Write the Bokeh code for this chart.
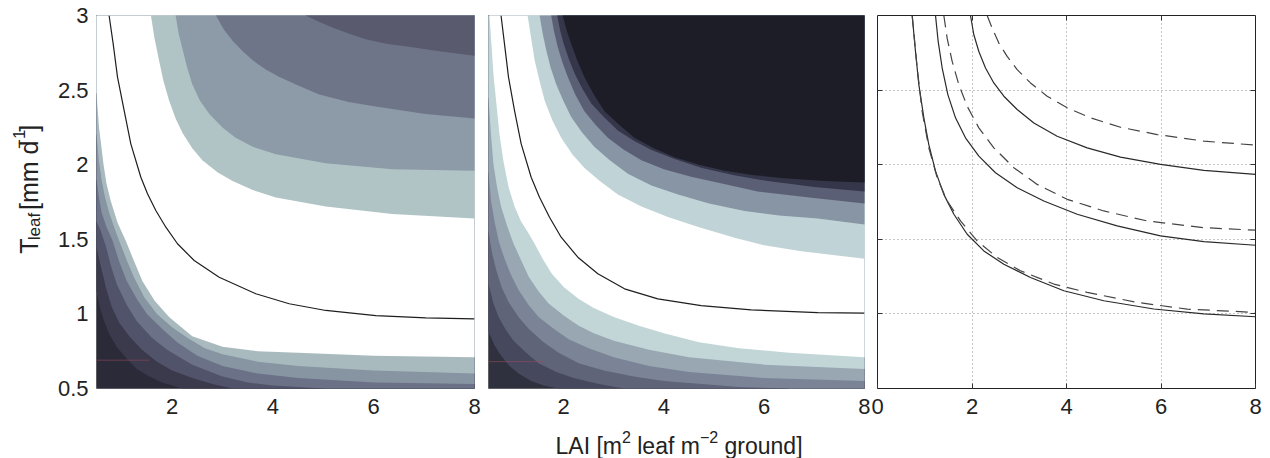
import math
from bokeh.plotting import figure
from bokeh.models import Range1d, FixedTicker, LinearAxis, CustomJSTickFormatter
from bokeh.layouts import row, column
from bokeh.core.properties import value
from bokeh.embed import file_html
from bokeh.resources import INLINE

FONT = "Liberation Sans"

# ---------------- data ----------------
lai_range = (0.5, 8.0)
lai_range_c = (0.0, 8.0)
t_range = (0.5, 3.0)

x_ticks_ab = [2, 4, 6, 8]
x_ticks_c = [0, 2, 4, 6, 8]
y_ticks = [0.5, 1, 1.5, 2, 2.5, 3]
grid_x_c = [2, 4, 6]
grid_y_c = [1, 1.5, 2, 2.5]

# Panel a: black contour line
a_line_lai = [0.75, 0.831, 0.917, 1.049, 1.181, 1.380, 1.512, 1.677, 1.876, 2.107, 2.438, 2.934,
              3.661, 4.323, 5.050, 6.042, 7.034, 8.0]
a_line_t = [3.0, 2.810, 2.587, 2.363, 2.140, 1.916, 1.805, 1.693, 1.581, 1.470, 1.358, 1.246,
            1.135, 1.068, 1.023, 0.989, 0.974, 0.967]

# Panel a: band boundaries, bottom-left corner outward
a_L6_lai = [0.5, 0.57, 0.65, 0.76, 0.9, 1.1, 1.3, 1.55, 1.8, 2.2]
a_L6_t = [1.15, 1.04, 0.95, 0.86, 0.78, 0.70, 0.63, 0.58, 0.54, 0.5]
a_L5_lai = [0.5, 0.55, 0.6, 0.7, 0.8, 0.95, 1.15, 1.4, 1.7, 2.0, 2.4, 2.8, 3.2]
a_L5_t = [1.45, 1.37, 1.30, 1.16, 1.05, 0.94, 0.85, 0.76, 0.68, 0.62, 0.57, 0.53, 0.5]
a_L4_lai = [0.5, 0.58, 0.68, 0.78, 0.9, 1.1, 1.3, 1.6, 1.9, 2.4, 3.0, 3.5, 4.0, 5.0]
a_L4_t = [1.62, 1.56, 1.46, 1.33, 1.20, 1.06, 0.95, 0.84, 0.76, 0.66, 0.58, 0.54, 0.52, 0.5]
a_L3_lai = [0.5, 0.55, 0.6, 0.7, 0.82, 0.95, 1.1, 1.3, 1.5, 1.8, 2.1, 2.5, 3.0, 3.7, 4.5, 6.0, 8.0]
a_L3_t = [1.9, 1.78, 1.68, 1.58, 1.49, 1.35, 1.22, 1.10, 1.0, 0.90, 0.81, 0.72, 0.65, 0.60, 0.57,
          0.54, 0.53]
a_L2_lai = [0.5, 0.55, 0.6, 0.67, 0.75, 0.85, 0.95, 1.1, 1.25, 1.45, 1.7, 2.0, 2.3, 2.65, 3.0,
            3.7, 4.5, 6.0, 8.0]
a_L2_t = [2.2, 2.02, 1.9, 1.78, 1.68, 1.58, 1.49, 1.36, 1.24, 1.11, 1.0, 0.91, 0.84, 0.77, 0.73,
          0.68, 0.65, 0.62, 0.60]
a_L1_lai = [0.5, 0.55, 0.64, 0.7, 0.78, 0.92, 1.08, 1.25, 1.41, 1.65, 1.94, 2.4, 3.0, 3.7, 4.5,
            6.0, 8.0]
a_L1_t = [2.48, 2.25, 2.0, 1.87, 1.76, 1.61, 1.49, 1.35, 1.22, 1.09, 0.98, 0.85, 0.78, 0.75, 0.74,
          0.72, 0.71]
a_U1_lai = [1.58, 1.65, 1.74, 1.83, 1.94, 2.07, 2.21, 2.4, 2.60, 2.9, 3.20, 3.6, 4.06, 5.05, 6.37, 8.0]
a_U1_t = [3.0, 2.85, 2.70, 2.56, 2.43, 2.31, 2.21, 2.11, 2.03, 1.95, 1.89, 1.83, 1.78, 1.72, 1.67, 1.64]
a_U2_lai = [2.07, 2.13, 2.21, 2.30, 2.40, 2.55, 2.74, 3.0, 3.26, 3.6, 4.06, 5.05, 6.37, 8.0]
a_U2_t = [3.0, 2.88, 2.77, 2.65, 2.54, 2.43, 2.34, 2.25, 2.18, 2.12, 2.07, 2.01, 1.97, 1.96]
a_U3_lai = [2.87, 3.02, 3.20, 3.40, 3.60, 3.85, 4.12, 4.5, 4.92, 5.5, 6.04, 7.03, 8.0]
a_U3_t = [3.0, 2.91, 2.83, 2.76, 2.70, 2.64, 2.59, 2.53, 2.47, 2.42, 2.39, 2.34, 2.31]
a_U4_lai = [4.65, 4.9, 5.18, 5.5, 5.84, 6.25, 6.70, 7.3, 8.0]
a_U4_t = [3.0, 2.96, 2.92, 2.88, 2.84, 2.81, 2.79, 2.76, 2.73]
a_base_color = "#2a2a38"
a_colors = ["#3a3a4c", "#51536a", "#6b7187", "#8794a2", "#a9babf", "#ffffff",
            "#b0c4c5", "#8d9aa7", "#6f7589", "#5a5a6e"]

# Panel b: black contour line
b_line_lai = [0.75, 0.819, 0.899, 1.019, 1.152, 1.351, 1.517, 1.717, 1.949, 2.282, 2.681, 3.213,
              3.878, 4.742, 5.739, 7.069, 8.0]
b_line_t = [3.0, 2.810, 2.587, 2.363, 2.140, 1.916, 1.782, 1.648, 1.514, 1.380, 1.269, 1.168,
            1.101, 1.056, 1.027, 1.009, 1.005]

# Panel b: band boundaries, bottom-left corner outward
b_L6_lai = [0.5, 0.62, 0.75, 0.92, 1.1, 1.35, 1.6, 1.9]
b_L6_t = [0.88, 0.79, 0.72, 0.65, 0.60, 0.55, 0.52, 0.5]
b_L5_lai = [0.5, 0.6, 0.7, 0.85, 1.0, 1.25, 1.5, 1.85, 2.2, 2.7, 3.2]
b_L5_t = [1.2, 1.07, 0.98, 0.89, 0.82, 0.74, 0.67, 0.61, 0.57, 0.53, 0.5]
b_L4_lai = [0.5, 0.57, 0.65, 0.76, 0.9, 1.1, 1.3, 1.6, 1.9, 2.3, 2.8, 3.4, 4.0, 5.5, 6.5]
b_L4_t = [1.55, 1.41, 1.30, 1.18, 1.08, 0.98, 0.90, 0.81, 0.74, 0.67, 0.62, 0.58, 0.55, 0.51, 0.5]
b_L3_lai = [0.5, 0.55, 0.62, 0.71, 0.82, 0.95, 1.1, 1.3, 1.5, 1.8, 2.1, 2.5, 3.0, 3.7, 4.5, 6.0, 8.0]
b_L3_t = [1.95, 1.76, 1.62, 1.48, 1.37, 1.26, 1.16, 1.06, 0.98, 0.90, 0.83, 0.77, 0.71, 0.65, 0.61,
          0.57, 0.55]
b_L2_lai = [0.5, 0.55, 0.6, 0.67, 0.75, 0.87, 1.0, 1.15, 1.3, 1.5, 1.7, 2.0, 2.3, 2.6, 3.0, 3.7,
            4.5, 6.0, 8.0]
b_L2_t = [2.45, 2.2, 2.0, 1.85, 1.72, 1.59, 1.47, 1.36, 1.25, 1.15, 1.07, 0.99, 0.92, 0.87, 0.82,
          0.76, 0.71, 0.66, 0.63]
b_L1_lai = [0.52, 0.56, 0.6, 0.66, 0.72, 0.8, 0.9, 1.02, 1.15, 1.28, 1.42, 1.58, 1.76, 2.0, 2.3,
            2.6, 3.0, 3.5, 4.0, 4.7, 5.5, 6.5, 8.0]
b_L1_t = [3.0, 2.8, 2.6, 2.4, 2.2, 2.02, 1.85, 1.72, 1.62, 1.55, 1.47, 1.37, 1.27, 1.18, 1.10,
          1.04, 0.98, 0.92, 0.87, 0.81, 0.77, 0.74, 0.71]
b_U1_lai = [1.28, 1.35, 1.42, 1.52, 1.62, 1.77, 1.95, 2.17, 2.41, 2.72, 3.08, 3.55, 4.08, 4.7,
            5.41, 6.0, 6.74, 8.0]
b_U1_t = [3.0, 2.85, 2.70, 2.56, 2.43, 2.30, 2.18, 2.07, 1.98, 1.89, 1.80, 1.72, 1.65, 1.58,
          1.51, 1.46, 1.42, 1.37]
b_U2_lai = [1.52, 1.58, 1.65, 1.74, 1.85, 1.99, 2.15, 2.36, 2.61, 2.92, 3.28, 3.75, 4.28, 4.9,
            5.61, 6.3, 7.07, 8.0]
b_U2_t = [3.0, 2.88, 2.77, 2.65, 2.54, 2.43, 2.32, 2.22, 2.12, 2.03, 1.94, 1.86, 1.80, 1.74,
          1.69, 1.66, 1.64, 1.60]
b_U3_lai = [1.75, 1.81, 1.88, 1.97, 2.08, 2.23, 2.41, 2.63, 2.88, 3.2, 3.55, 4.0, 4.54, 5.2,
            5.87, 6.9, 8.0]
b_U3_t = [3.0, 2.89, 2.79, 2.69, 2.59, 2.47, 2.36, 2.27, 2.18, 2.10, 2.03, 1.97, 1.92, 1.87,
          1.82, 1.78, 1.74]
b_U4_lai = [1.87, 1.93, 2.0, 2.1, 2.22, 2.37, 2.55, 2.8, 3.08, 3.4, 3.74, 4.2, 4.74, 5.4, 6.07,
            7.0, 8.0]
b_U4_t = [3.0, 2.90, 2.81, 2.71, 2.61, 2.51, 2.41, 2.32, 2.23, 2.16, 2.10, 2.04, 1.98, 1.93,
          1.89, 1.85, 1.82]
b_U5_lai = [1.98, 2.06, 2.15, 2.27, 2.41, 2.6, 2.81, 3.1, 3.41, 3.8, 4.21, 4.7, 5.21, 5.8, 6.40,
            7.2, 8.0]
b_U5_t = [3.0, 2.90, 2.81, 2.70, 2.59, 2.47, 2.36, 2.27, 2.18, 2.11, 2.05, 2.0, 1.96, 1.93,
          1.91, 1.89, 1.88]
b_base_color = "#30313f"
b_colors = ["#46485d", "#5f6479", "#7b8496", "#98a7b1", "#c2d6d8", "#ffffff",
            "#c0d3d6", "#8795a4", "#5b5f76", "#35364a", "#1d1d27"]

# scan artefact line (faint red)
a_red_lai = [0.5, 1.55]
a_red_t = [0.69, 0.69]
b_red_lai = [0.5, 1.6]
b_red_t = [0.68, 0.68]

# Panel c: solid and dashed contour lines
c_S1_lai = [0.734, 0.804, 0.875, 0.981, 1.086, 1.228, 1.404, 1.616, 1.898, 2.250, 2.674, 3.238,
            3.944, 4.790, 5.848, 6.907, 8.0]
c_S1_t = [3.0, 2.759, 2.537, 2.314, 2.135, 1.957, 1.801, 1.668, 1.534, 1.422, 1.333, 1.244,
          1.155, 1.088, 1.033, 1.000, 0.981]
c_D1_lai = [0.734, 0.840, 0.945, 1.086, 1.263, 1.474, 1.757, 2.109, 2.533, 3.026, 3.732, 4.437,
            5.496, 6.554, 8.0]
c_D1_t = [3.0, 2.648, 2.358, 2.113, 1.913, 1.757, 1.623, 1.489, 1.378, 1.289, 1.200, 1.144,
          1.077, 1.032, 1.010]
c_S2_lai = [1.228, 1.284, 1.369, 1.489, 1.651, 1.862, 2.145, 2.497, 2.956, 3.520, 4.226, 5.072,
            5.989, 6.907, 8.0]
c_S2_t = [3.0, 2.826, 2.648, 2.470, 2.314, 2.180, 2.057, 1.946, 1.846, 1.757, 1.668, 1.590,
          1.523, 1.485, 1.460]
c_D2_lai = [1.404, 1.474, 1.580, 1.721, 1.898, 2.145, 2.462, 2.885, 3.379, 4.014, 4.790, 5.707,
            6.907, 8.0]
c_D2_t = [3.0, 2.848, 2.693, 2.537, 2.392, 2.247, 2.113, 1.980, 1.868, 1.768, 1.690, 1.623,
          1.578, 1.561]
c_S3_lai = [1.968, 2.039, 2.145, 2.286, 2.462, 2.674, 2.956, 3.309, 3.802, 4.437, 5.143, 5.989,
            6.907, 8.0]
c_S3_t = [3.0, 2.871, 2.759, 2.648, 2.548, 2.459, 2.370, 2.280, 2.191, 2.113, 2.051, 2.002,
          1.962, 1.935]
c_D3_lai = [2.321, 2.427, 2.568, 2.744, 2.956, 3.238, 3.591, 4.014, 4.508, 5.143, 5.919, 6.907, 8.0]
c_D3_t = [3.0, 2.915, 2.815, 2.726, 2.637, 2.548, 2.459, 2.381, 2.314, 2.251, 2.202, 2.158, 2.131]

# axis label texts
ylabel_pieces = ["T", "leaf", "[mm d", "\u22121", "]"]
xlabel_pieces = ["LAI [m", "2", "leaf m", "\u22122", "ground]"]

# ---------------- layout constants ----------------
PAGE_W, PAGE_H = 1270, 458
TOP = 15
FRAME_H = 373
BOTTOM = 36
ROW_H = TOP + FRAME_H + BOTTOM
YLAB_W = 50

TEXT_COLOR = "#222222"
TICK_FS = "22px"
LABEL_PX = 23
SUP_PX = 16
YLABEL_PX = 25
YSUB_PX = 17

ADV = {'L': 556, 'A': 667, 'I': 278, ' ': 278, '[': 278, ']': 278, 'm': 833, 'l': 222,
       'e': 556, 'a': 556, 'f': 278, 'g': 556, 'r': 333, 'o': 556, 'u': 556, 'n': 556,
       'd': 556, 'T': 611, '2': 556, '1': 556, '\u2212': 584}


def text_w(s, px):
    return sum(ADV.get(ch, 556) for ch in s) / 1000.0 * px


def region_above(cx, cy, xr, yr):
    big = 100.0
    xs, ys = [], []
    if cx[0] <= xr[0] + 1e-9:
        xs += [xr[0] - 1, xr[0] - 1]
        ys += [big, cy[0]]
    else:
        xs += [cx[0]]
        ys += [big]
    xs += list(cx)
    ys += list(cy)
    if cy[-1] <= yr[0] + 1e-9:
        xs += [cx[-1], big]
        ys += [yr[0] - 1, yr[0] - 1]
    else:
        xs += [big]
        ys += [cy[-1]]
    xs += [big]
    ys += [big]
    return xs, ys


def base_fig(width, left, right, xr):
    p = figure(width=width, height=ROW_H, x_range=Range1d(*xr), y_range=Range1d(*t_range),
               output_backend="svg", toolbar_location=None,
               min_border_left=left, min_border_right=right,
               min_border_top=TOP, min_border_bottom=BOTTOM)
    p.background_fill_color = "white"
    p.border_fill_color = "white"
    for ax in p.axis:
        ax.axis_line_color = None
        ax.minor_tick_line_color = None
        ax.major_tick_in = 0
        ax.major_tick_out = 0
        ax.major_label_text_font = FONT
        ax.major_label_text_font_size = TICK_FS
        ax.major_label_text_color = TEXT_COLOR
    p.xaxis.major_label_standoff = 10
    p.yaxis.major_label_standoff = 8
    p.yaxis.ticker = FixedTicker(ticks=y_ticks)
    p.yaxis.formatter = CustomJSTickFormatter(code="return String(tick)")
    return p


def contour_panel(p, curves, colors, base_color, line_x, line_y, red_x, red_y):
    p.xgrid.visible = False
    p.ygrid.visible = False
    p.quad(left=lai_range[0] - 1, right=lai_range[1] + 1, bottom=t_range[0] - 1,
           top=t_range[1] + 1, fill_color=base_color, line_color=None)
    for (cx, cy), col in zip(curves, colors):
        xs, ys = region_above(cx, cy, lai_range, t_range)
        p.patch(xs, ys, fill_color=col, line_color=None)
    p.line(red_x, red_y, line_color="#a04a5c", line_alpha=0.55, line_width=1)
    p.line(line_x, line_y, line_color="#1e1e1e", line_width=1.2)
    p.outline_line_color = "#8c8c8c"
    p.outline_line_width = 1
    p.xaxis.ticker = FixedTicker(ticks=x_ticks_ab)


def blank_fig(width, height):
    p = figure(width=width, height=height, x_range=Range1d(0, width), y_range=Range1d(0, height),
               output_backend="svg", toolbar_location=None,
               min_border_left=0, min_border_right=0, min_border_top=0, min_border_bottom=0)
    p.axis.visible = False
    p.xgrid.visible = False
    p.ygrid.visible = False
    p.outline_line_color = None
    p.background_fill_color = "white"
    p.border_fill_color = "white"
    return p


# ---------------- y label figure ----------------
py_lab = blank_fig(YLAB_W, ROW_H)
y_sizes = [YLABEL_PX, YSUB_PX, YLABEL_PX, YSUB_PX, YLABEL_PX]
y_offsets = [0, 6, 0, -10, 0]
y_gaps = [0, 0, text_w(" ", YLABEL_PX), 0, 0]
total = sum(text_w(s, fs) for s, fs in zip(ylabel_pieces, y_sizes)) + sum(y_gaps)
cursor = 198 + total / 2.0
base_x = 28
for s, fs, off, gap in zip(ylabel_pieces, y_sizes, y_offsets, y_gaps):
    cursor -= gap
    py_lab.text(x=[base_x + off], y=[ROW_H - cursor], text=[s], angle=math.pi / 2,
                text_font=value(FONT), text_font_size=value(f"{fs}px"), text_color=TEXT_COLOR,
                text_align="left", text_baseline="alphabetic")
    cursor -= text_w(s, fs)

# ---------------- panel a ----------------
W1 = (96 - YLAB_W) + 378 + 7
pa = base_fig(W1, 96 - YLAB_W, 7, lai_range)
contour_panel(pa,
              [(a_L6_lai, a_L6_t), (a_L5_lai, a_L5_t), (a_L4_lai, a_L4_t), (a_L3_lai, a_L3_t),
               (a_L2_lai, a_L2_t), (a_L1_lai, a_L1_t), (a_U1_lai, a_U1_t), (a_U2_lai, a_U2_t),
               (a_U3_lai, a_U3_t), (a_U4_lai, a_U4_t)],
              a_colors, a_base_color, a_line_lai, a_line_t, a_red_lai, a_red_t)

# ---------------- panel b ----------------
W2 = 7 + 376 + 6
pb = base_fig(W2, 7, 6, lai_range)
contour_panel(pb,
              [(b_L6_lai, b_L6_t), (b_L5_lai, b_L5_t), (b_L4_lai, b_L4_t), (b_L3_lai, b_L3_t),
               (b_L2_lai, b_L2_t), (b_L1_lai, b_L1_t), (b_U1_lai, b_U1_t), (b_U2_lai, b_U2_t),
               (b_U3_lai, b_U3_t), (b_U4_lai, b_U4_t), (b_U5_lai, b_U5_t)],
              b_colors, b_base_color, b_line_lai, b_line_t, b_red_lai, b_red_t)
pb.yaxis.visible = False

# ---------------- panel c ----------------
W3 = 7 + 378 + 15
pc = base_fig(W3, 7, 15, lai_range_c)
pc.xaxis.ticker = FixedTicker(ticks=x_ticks_c)
pc.yaxis.ticker = FixedTicker(ticks=grid_y_c)
pc.yaxis.formatter = CustomJSTickFormatter(code="return ''")
pc.yaxis.major_label_text_font_size = "0px"
pc.yaxis.major_label_standoff = 0
for ax in pc.axis:
    ax.major_tick_in = 5
    ax.major_tick_line_color = "#333333"
pc.xgrid.ticker = FixedTicker(ticks=grid_x_c)
pc.ygrid.ticker = FixedTicker(ticks=grid_y_c)
for g in (pc.xgrid, pc.ygrid):
    g.grid_line_color = "#8a8a8a"
    g.grid_line_dash = "1 3"
    g.grid_line_width = 1
right_ax = LinearAxis(ticker=FixedTicker(ticks=grid_y_c), formatter=CustomJSTickFormatter(code="return ''"),
                      major_label_text_font_size="0px", major_label_standoff=0, axis_line_color=None,
                      major_tick_in=5, major_tick_out=0, minor_tick_line_color=None,
                      major_tick_line_color="#333333")
top_ax = LinearAxis(ticker=FixedTicker(ticks=grid_x_c), formatter=CustomJSTickFormatter(code="return ''"),
                    major_label_text_font_size="0px", major_label_standoff=0, axis_line_color=None,
                    major_tick_in=5, major_tick_out=0, minor_tick_line_color=None,
                    major_tick_line_color="#333333")
pc.add_layout(right_ax, "right")
pc.add_layout(top_ax, "above")
pc.outline_line_color = "#222222"
pc.outline_line_width = 1

for xs, ys in [(c_S1_lai, c_S1_t), (c_S2_lai, c_S2_t), (c_S3_lai, c_S3_t)]:
    pc.line(xs, ys, line_color="#2a2a2a", line_width=1.2)
for xs, ys in [(c_D1_lai, c_D1_t), (c_D2_lai, c_D2_t), (c_D3_lai, c_D3_t)]:
    pc.line(xs, ys, line_color="#444444", line_width=1.2, line_dash="12 7")

# ---------------- x label figure ----------------
XLAB_H = PAGE_H - ROW_H
px_lab = blank_fig(PAGE_W, XLAB_H)
x_sizes = [LABEL_PX, SUP_PX, LABEL_PX, SUP_PX, LABEL_PX]
x_offsets = [0, -9, 0, -9, 0]
x_gaps = [0, 0, text_w(" ", LABEL_PX), 0, text_w(" ", LABEL_PX)]
cx_pos = 555
base_y = 445
for s, fs, off, gap in zip(xlabel_pieces, x_sizes, x_offsets, x_gaps):
    cx_pos += gap
    px_lab.text(x=[cx_pos], y=[PAGE_H - (base_y + off)], text=[s],
                text_font=value(FONT), text_font_size=value(f"{fs}px"), text_color=TEXT_COLOR,
                text_align="left", text_baseline="alphabetic")
    cx_pos += text_w(s, fs)

layout = column(row(py_lab, pa, pb, pc), px_lab)
open("out.html", "w").write(file_html(layout, INLINE))
